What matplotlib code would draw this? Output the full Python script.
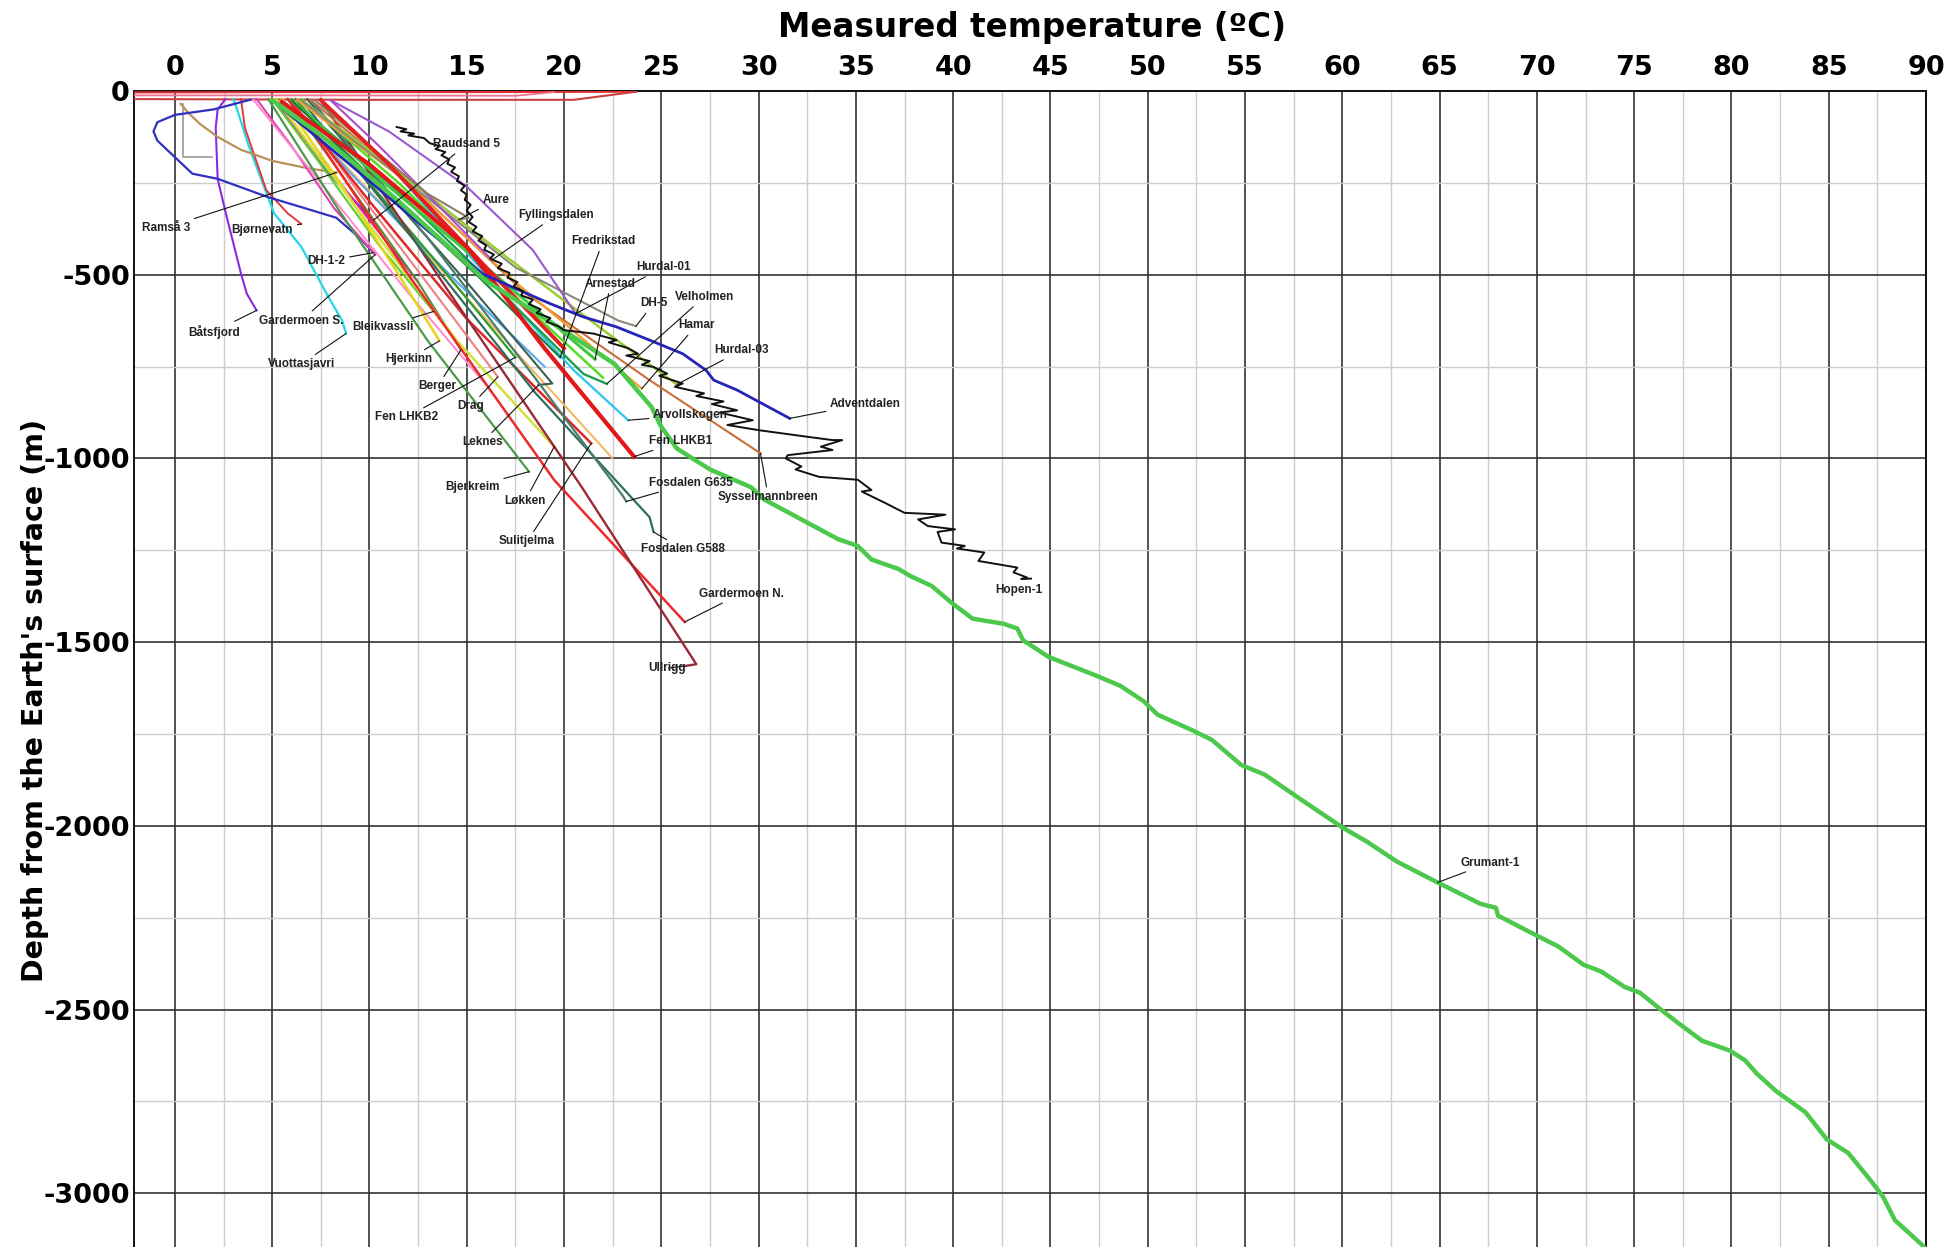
import matplotlib
matplotlib.use("Agg")
import matplotlib.pyplot as plt
from matplotlib.ticker import MultipleLocator, FuncFormatter

plt.rcParams['font.family'] = ['Liberation Sans', 'DejaVu Sans']
plt.rcParams['axes.unicode_minus'] = False

# ---------------- data: (temperature degC, depth m) ----------------
surface_a = [(-2.1, -4), (5.0, -3), (15.0, -3), (23.7, -2)]
surface_b = [(23.7, -2), (20.5, -24), (10.0, -24), (-2.1, -22)]
surface_c = [(-2.1, -12), (8.0, -12), (17.5, -13), (19.5, -3)]
grey_short = [(0.4, -35), (0.4, -100), (0.4, -180), (1.9, -180)]

batsfjord = [(2.6, -22), (2.2, -50), (2.1, -100), (2.2, -240), (2.7, -350), (3.4, -497), (3.7, -552), (4.2, -597)]
vuottasjavri = [(3.0, -22), (3.2, -50), (3.8, -150), (5.1, -333), (6.5, -424), (7.8, -552), (8.6, -625), (8.8, -660)]
bjornevatn = [(3.4, -22), (3.6, -100), (4.7, -270), (5.8, -333), (6.5, -362)]
ramsa3 = [(0.3, -35), (0.7, -60), (1.3, -90), (2.2, -125), (3.4, -160), (5.0, -190), (6.8, -210), (8.3, -222)]
dh12 = [(4.0, -22), (2.0, -50), (0.0, -65), (-0.9, -85), (-1.1, -110), (-0.9, -135), (0.2, -190), (0.9, -225),
        (2.2, -239), (4.8, -289), (6.5, -316), (8.3, -345), (9.5, -400), (10.2, -440)]
raudsand5 = [(5.2, -22), (6.0, -80), (8.0, -230), (10.2, -352)]
gardermoen_s = [(4.2, -22), (6.0, -150), (8.2, -320), (10.3, -445)]
bleikvassli = [(5.0, -22), (7.5, -200), (10.5, -420), (13.3, -600)]
hjerkinn = [(5.5, -22), (8.5, -250), (11.5, -500), (13.6, -680)]
berger = [(5.8, -22), (9.0, -260), (12.5, -520), (14.7, -705)]
fen_lhkb2 = [(6.2, -22), (10.0, -250), (14.0, -500), (17.5, -725)]
drag = [(6.0, -22), (9.5, -280), (13.5, -560), (16.6, -778)]
leknes = [(6.8, -22), (10.5, -250), (15.0, -520), (19.4, -796), (18.7, -800)]
bjerkreim = [(4.8, -22), (8.5, -330), (13.0, -680), (18.2, -1036)]
lokken = [(5.2, -22), (9.5, -330), (14.5, -680), (19.5, -968)]
sulitjelma = [(5.8, -22), (10.0, -300), (15.0, -620), (21.4, -959)]
gardermoen_n = [(6.0, -25), (12.0, -500), (19.5, -1059), (26.2, -1445)]
ullrigg = [(7.5, -25), (14.0, -540), (20.9, -1077), (26.8, -1560), (26.2, -1565)]
fosdalen_g588 = [(6.5, -25), (12.5, -420), (18.5, -820), (24.4, -1160), (24.6, -1200)]
fosdalen_g635 = [(7.0, -25), (13.0, -400), (18.5, -780), (23.0, -1100), (23.2, -1117)]
fen_lhkb1 = [(5.5, -30), (10.0, -200), (15.0, -424), (19.0, -700), (23.6, -995)]
arvollskogen = [(7.5, -25), (11.5, -230), (16.0, -500), (20.5, -760), (23.3, -896)]
sysselmannbreen = [(7.0, -25), (12.0, -250), (18.0, -550), (24.4, -787), (30.1, -986)]
hurdal03 = [(6.5, -25), (11.0, -200), (17.0, -450), (22.0, -650), (25.8, -799)]
hamar = [(6.3, -25), (11.5, -230), (17.5, -520), (24.0, -810)]
velholmen = [(6.0, -25), (11.0, -250), (17.0, -560), (21.0, -770), (22.2, -797)]
dh5 = [(6.5, -25), (12.0, -250), (17.5, -480), (22.8, -625), (23.7, -640)]
arnestad = [(6.0, -25), (11.0, -260), (16.0, -480), (21.6, -730)]
hurdal01 = [(8.0, -25), (11.0, -110), (15.0, -260), (18.4, -433), (20.6, -606)]
fredrikstad = [(6.0, -25), (11.0, -280), (15.5, -500), (19.8, -725)]
fyllingsdalen = [(8.0, -25), (10.5, -150), (13.5, -310), (16.3, -460)]
aure = [(7.2, -25), (10.0, -150), (13.0, -280), (15.1, -345), (14.6, -350)]
adventdalen = [(5.0, -25), (9.0, -200), (13.0, -380), (15.8, -497), (17.4, -535), (19.3, -579), (21.0, -615),
               (22.7, -642), (24.4, -678), (26.1, -715), (27.3, -760), (27.7, -787), (28.9, -814), (31.6, -891)]
unlabelled_1 = [(4.0, -22), (7.5, -250), (12.0, -550), (16.0, -800)]
unlabelled_2 = [(5.0, -22), (8.5, -250), (12.5, -520)]
unlabelled_3 = [(5.5, -22), (10.5, -300), (16.5, -650), (22.5, -1000)]
unlabelled_4 = [(7.5, -25), (11.0, -200), (16.0, -480), (20.0, -700)]
unlabelled_5 = [(5.5, -22), (9.5, -250), (14.5, -520), (19.0, -750)]
unlabelled_6 = [(6.5, -22), (11.5, -250), (17.5, -560), (22.0, -780)]

hopen1 = [(11.4, -98), (11.9, -104), (11.6, -110), (12.3, -116), (12.0, -121), (12.8, -128), (13.1, -142),
          (13.6, -150), (13.4, -158), (13.9, -166), (13.7, -175), (14.1, -186), (14.0, -198), (14.4, -208),
          (14.2, -220), (14.6, -232), (14.5, -245), (14.9, -258), (14.7, -270), (15.0, -282), (14.9, -296),
          (15.2, -310), (15.0, -325), (15.3, -343), (15.1, -356), (15.5, -370), (15.3, -382), (15.8, -395),
          (15.6, -407), (16.0, -420), (15.9, -432), (16.4, -445), (16.2, -456), (16.8, -470), (16.6, -482),
          (17.2, -495), (17.1, -508), (17.6, -520), (17.4, -532), (17.9, -545), (17.8, -556), (18.4, -568),
          (18.2, -580), (18.8, -594), (18.6, -604), (19.3, -618), (19.1, -628), (19.7, -640), (20.0, -651),
          (21.5, -660), (22.7, -678), (22.3, -684), (23.3, -700), (23.8, -715), (23.2, -720), (24.4, -735),
          (24.0, -745), (24.6, -751), (25.3, -769), (24.9, -775), (26.1, -796), (25.7, -805), (27.2, -823),
          (26.8, -830), (28.2, -845), (27.6, -852), (28.9, -869), (28.0, -875), (29.7, -896), (28.4, -909),
          (30.0, -923), (32.5, -941), (33.8, -950), (34.3, -950), (33.2, -968), (33.8, -977), (31.5, -991),
          (31.4, -1000), (32.2, -1022), (31.9, -1030), (33.1, -1050), (35.1, -1058), (35.8, -1086), (35.3, -1090),
          (36.5, -1121), (37.5, -1148), (39.6, -1153), (38.2, -1166), (38.7, -1184), (40.1, -1193), (39.2, -1200),
          (39.4, -1229), (40.6, -1238), (40.2, -1245), (41.6, -1256), (41.3, -1279), (43.3, -1297), (43.1, -1310),
          (43.8, -1324), (43.5, -1328), (44.0, -1327)]

grumant1 = [(5.0, -25), (7.5, -120), (11.5, -300), (16.0, -517), (20.0, -652), (22.6, -743), (24.5, -860),
            (25.0, -914), (25.8, -973), (27.5, -1030), (29.6, -1078), (30.3, -1112), (32.2, -1166), (34.1, -1220),
            (35.1, -1238), (35.8, -1275), (37.2, -1301), (37.8, -1320), (38.9, -1347), (39.9, -1392), (41.0, -1436),
            (42.6, -1450), (43.3, -1463), (43.6, -1495), (44.9, -1540), (47.4, -1592), (48.6, -1619), (49.8, -1661),
            (50.5, -1697), (52.3, -1740), (53.3, -1766), (54.8, -1834), (56.0, -1860), (57.9, -1929), (60.0, -2004),
            (61.3, -2044), (62.8, -2097), (64.9, -2154), (67.1, -2212), (67.9, -2223), (68.0, -2244), (69.9, -2296),
            (71.1, -2328), (72.4, -2378), (73.3, -2396), (74.5, -2438), (75.3, -2454), (76.4, -2501), (77.3, -2538),
            (78.5, -2585), (79.9, -2611), (80.7, -2638), (81.3, -2674), (82.3, -2722), (83.8, -2779), (84.9, -2853),
            (86.0, -2890), (87.2, -2968), (87.8, -3010), (88.4, -3073), (89.4, -3121), (90.0, -3150)]

x_ticks = list(range(0, 95, 5))
y_ticks = list(range(0, -3001, -500))

# ---------------- styles ----------------
series = [
    (surface_a, '#e03030', 1.5), (surface_c, '#f07090', 1.3), (surface_b, '#c84040', 1.5),
    (grey_short, '#9a9a9a', 1.2),
    (batsfjord, '#8a2be2', 1.5), (vuottasjavri, '#22d8e8', 1.6), (bjornevatn, '#e03a3a', 1.4),
    (ramsa3, '#b8925a', 1.6), (dh12, '#3030c0', 1.6), (raudsand5, '#2255dd', 1.6),
    (gardermoen_s, '#e040b0', 1.5), (unlabelled_1, '#ff88cc', 1.4), (unlabelled_2, '#e020a0', 1.5),
    (unlabelled_3, '#f4b860', 1.5), (unlabelled_5, '#55aaee', 1.5), (bleikvassli, '#66cc33', 1.6),
    (hjerkinn, '#e6d619', 1.8), (berger, '#5a8a3a', 1.5), (fen_lhkb2, '#2e9e2e', 1.6),
    (drag, '#f08080', 1.5), (leknes, '#3d5e50', 1.5), (bjerkreim, '#4a9a4a', 1.6),
    (lokken, '#d4e03a', 1.8), (sulitjelma, '#e02828', 1.8), (gardermoen_n, '#ee2a2a', 1.8),
    (ullrigg, '#9a2a3a', 1.7), (fosdalen_g588, '#2f6f5f', 1.6), (fosdalen_g635, '#4a7d6b', 1.6),
    (unlabelled_6, '#55dd22', 1.8), (arvollskogen, '#33c8ee', 1.7), (sysselmannbreen, '#c8703a', 1.5),
    (hurdal03, '#9acd32', 1.8), (hamar, '#f0a030', 1.6), (velholmen, '#1e9e4a', 1.7),
    (dh5, '#8a8a78', 1.5), (arnestad, '#3ec83e', 2.2), (hurdal01, '#9b59d0', 1.5),
    (fredrikstad, '#1f7a3a', 1.5), (fyllingsdalen, '#b04bd0', 1.5), (aure, '#8a7f66', 1.5),
    (unlabelled_4, '#e52020', 2.8), (fen_lhkb1, '#e01818', 3.0), (adventdalen, '#2424b8', 2.0),
    (grumant1, '#4cc94c', 3.2), (hopen1, '#111111', 1.4),
]

# label text, text position (T, depth), series it points to, index of target point (None = no leader)
labels = [
    ('Raudsand 5', 15.0, -145, raudsand5, -1), ('Aure', 16.5, -297, aure, -1),
    ('Fyllingsdalen', 19.6, -338, fyllingsdalen, -1), ('Fredrikstad', 22.0, -409, fredrikstad, -1),
    ('Hurdal-01', 25.1, -480, hurdal01, -1), ('Arnestad', 22.4, -524, arnestad, -1),
    ('DH-5', 24.6, -578, dh5, -1), ('Velholmen', 27.2, -561, velholmen, -1),
    ('Hamar', 26.8, -638, hamar, -1), ('Hurdal-03', 29.1, -706, hurdal03, -1),
    ('Adventdalen', 35.5, -851, adventdalen, -1), ('Arvollskogen', 26.5, -882, arvollskogen, -1),
    ('Fen LHKB1', 26.0, -953, fen_lhkb1, -1), ('Fosdalen G635', 26.5, -1067, fosdalen_g635, -1),
    ('Sysselmannbreen', 30.5, -1105, sysselmannbreen, -1), ('Hopen-1', 43.4, -1358, hopen1, None),
    ('Fosdalen G588', 26.1, -1247, fosdalen_g588, -1), ('Gardermoen N.', 29.1, -1368, gardermoen_n, -1),
    ('Ullrigg', 25.3, -1571, ullrigg, -1), ('Grumant-1', 67.6, -2100, grumant1, 37),
    ('Ramså 3', -0.45, -372, ramsa3, -1), ('Bjørnevatn', 4.5, -378, bjornevatn, -1),
    ('DH-1-2', 7.8, -463, dh12, -1), ('Båtsfjord', 2.0, -655, batsfjord, -1),
    ('Gardermoen S.', 6.5, -625, gardermoen_s, -1), ('Bleikvassli', 10.7, -642, bleikvassli, -1),
    ('Vuottasjavri', 6.5, -743, vuottasjavri, -1), ('Hjerkinn', 12.0, -730, hjerkinn, -1),
    ('Berger', 13.5, -804, berger, -1), ('Drag', 15.2, -858, drag, -1),
    ('Fen LHKB2', 11.9, -888, fen_lhkb2, -1), ('Leknes', 15.8, -956, leknes, -1),
    ('Bjerkreim', 15.3, -1078, bjerkreim, -1), ('Løkken', 18.0, -1115, lokken, -1),
    ('Sulitjelma', 18.1, -1226, sulitjelma, -1),
]

W, H = 1946, 1247
fig = plt.figure(figsize=(W / 100, H / 100), dpi=100)
ax_left, ax_right, ax_top = 134, 1926, 91
ax = fig.add_axes([ax_left / W, 0.0, (ax_right - ax_left) / W, (H - ax_top) / H])

for pts, color, lw in series:
    t = [p[0] for p in pts]
    d = [p[1] for p in pts]
    ax.plot(t, d, color=color, lw=lw, solid_joinstyle='round', zorder=3)

for text, tx, ty, pts, idx in labels:
    if idx is None:
        ax.text(tx, ty, text, fontsize=8.5, fontweight='bold', color='#222222',
                ha='center', va='center', zorder=5)
    else:
        target = pts[idx]
        ax.annotate(text, xy=target, xytext=(tx, ty), fontsize=8.5, fontweight='bold',
                    color='#222222', ha='center', va='center', zorder=5,
                    arrowprops=dict(arrowstyle='-', color='#111111', lw=0.8,
                                    shrinkA=1, shrinkB=0))

ax.set_xlim(-2.1, 90)
ax.set_ylim(-3146, 0)
ax.xaxis.tick_top()
ax.set_xticks(x_ticks)
ax.set_yticks(y_ticks)
ax.xaxis.set_minor_locator(MultipleLocator(2.5))
ax.yaxis.set_minor_locator(MultipleLocator(250))
ax.yaxis.set_major_formatter(FuncFormatter(lambda v, p: f"{int(v)}"))
ax.tick_params(which='both', length=0)
ax.tick_params(axis='x', which='major', pad=7)
ax.tick_params(axis='y', which='major', pad=3)
for lab in ax.get_xticklabels() + ax.get_yticklabels():
    lab.set_fontweight('bold')
    lab.set_fontfamily('DejaVu Sans')
    lab.set_fontsize(19.5)

ax.set_axisbelow(True)
ax.grid(which='major', color='#333333', lw=1.2)
ax.grid(which='minor', color='#cdcdcd', lw=1.0)
for side in ['top', 'left', 'right']:
    ax.spines[side].set_color('#111111')
    ax.spines[side].set_linewidth(1.4)
ax.spines['bottom'].set_visible(False)

fig.text(1032 / W, 1 - 28 / H, 'Measured temperature (ºC)', fontsize=23.5, fontweight='bold',
         family='DejaVu Sans', ha='center', va='center')
fig.text(35 / W, 1 - 700 / H, "Depth from the Earth's surface (m)", fontsize=20.5, fontweight='bold',
         family='DejaVu Sans', ha='center', va='center', rotation=90)

fig.savefig('out.png', dpi=100)
